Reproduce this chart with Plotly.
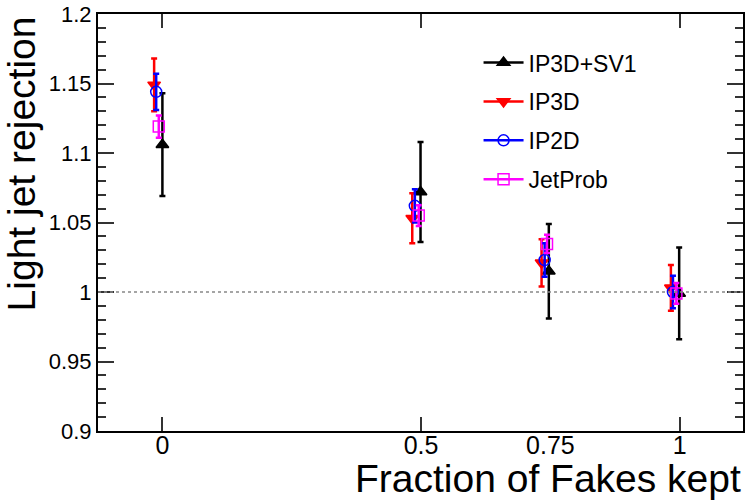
import plotly.graph_objects as go

# x tick positions (fraction of fakes kept)
fraction_kept = [0, 0.5, 0.75, 1]
fraction_labels = ["0", "0.5", "0.75", "1"]
major_ticks = [0, 0.5, 1]

# each tagger is drawn slightly shifted in x, as in the original
sv1_x = [0.0, 0.499, 0.747, 0.999]
sv1_y = [1.106, 1.072, 1.015, 0.999]
sv1_err = [0.037, 0.036, 0.034, 0.033]

ip3d_x = [-0.016, 0.483, 0.733, 0.983]
ip3d_y = [1.149, 1.053, 1.021, 1.003]
ip3d_err = [0.019, 0.018, 0.017, 0.0165]

ip2d_x = [-0.012, 0.488, 0.739, 0.987]
ip2d_y = [1.144, 1.062, 1.023, 1.000]
ip2d_err = [0.013, 0.012, 0.012, 0.0117]

jp_x = [-0.007, 0.4955, 0.7435, 0.9936]
jp_y = [1.119, 1.055, 1.0346, 0.999]
jp_err = [0.008, 0.0075, 0.0066, 0.0075]

ref_value = 1.0
x_range = [-0.1245, 1.1224]
y_range = [0.9, 1.2]

series = [
    ("IP3D+SV1", sv1_x, sv1_y, sv1_err, "black", "triangle-up"),
    ("IP3D", ip3d_x, ip3d_y, ip3d_err, "red", "triangle-down"),
    ("IP2D", ip2d_x, ip2d_y, ip2d_err, "blue", "circle-open"),
    ("JetProb", jp_x, jp_y, jp_err, "magenta", "square-open"),
]

font = "Liberation Sans, Arial, sans-serif"

fig = go.Figure()

for name, xs, ys, errs, color, symbol in series:
    fig.add_trace(go.Scatter(
        x=xs, y=ys, mode="markers", name=name, showlegend=False,
        marker=dict(symbol=symbol, size=11, color=color,
                    line=dict(color=color, width=1.5)),
        error_y=dict(type="data", array=errs, color=color,
                     thickness=2.5, width=3),
    ))

# legend entries (line + marker, like ROOT)
for i, (name, xs, ys, errs, color, symbol) in enumerate(series):
    fig.add_trace(go.Scatter(
        x=[None], y=[None], mode="lines+markers", name=name,
        legendgroup=f"g{i}", xaxis="x2",
        line=dict(color=color, width=2.5),
        marker=dict(symbol=symbol, size=11, color=color,
                    line=dict(color=color, width=1.5)),
    ))

fig.add_hline(y=ref_value, line=dict(color="#888888", width=1.5, dash="dot"))

fig.update_layout(
    width=748, height=500,
    margin=dict(l=98, r=5, t=14, b=69),
    paper_bgcolor="white", plot_bgcolor="white",
    font=dict(family=font, color="black"),
    legend=dict(x=0.59, y=0.935, xanchor="left", yanchor="top",
                font=dict(size=23), tracegroupgap=6,
                bgcolor="rgba(0,0,0,0)", itemwidth=40),
    xaxis=dict(range=x_range, tickvals=fraction_kept, ticktext=fraction_labels,
               ticks="", showline=True, linecolor="black", linewidth=2,
               mirror=True, showgrid=False, zeroline=False, automargin=False,
               tickfont=dict(size=25), ticklabelstandoff=-9),
    xaxis2=dict(range=x_range, overlaying="x", anchor="y", side="bottom",
                tickvals=major_ticks, ticks="inside", ticklen=14,
                tickcolor="#333333", tickwidth=1.5, mirror="ticks",
                showticklabels=False, showline=False, showgrid=False,
                zeroline=False, automargin=False),
    yaxis=dict(range=y_range, dtick=0.05, tickformat="~g",
               ticks="inside", ticklen=16, tickcolor="#333333", tickwidth=1.5,
               minor=dict(dtick=0.01, ticks="inside", ticklen=8,
                          tickcolor="#333333", tickwidth=1.5),
               showline=True, linecolor="black", linewidth=2, mirror="ticks",
               showgrid=False, zeroline=False, automargin=False,
               tickfont=dict(size=22)),
)

fig.add_annotation(text="Light jet rejection", textangle=-90,
                   xref="paper", yref="paper", x=-0.118, y=1.0,
                   xanchor="center", yanchor="top", showarrow=False,
                   font=dict(size=39))
fig.add_annotation(text="Fraction of Fakes kept",
                   xref="paper", yref="paper", x=1.0, y=-0.057,
                   xanchor="right", yanchor="top", showarrow=False,
                   font=dict(size=39))

# drop the browser's default body margin so the figure sits at the page origin
fig.write_html("out.html", config={"displayModeBar": False},
               post_script="document.body.style.margin='0';")
